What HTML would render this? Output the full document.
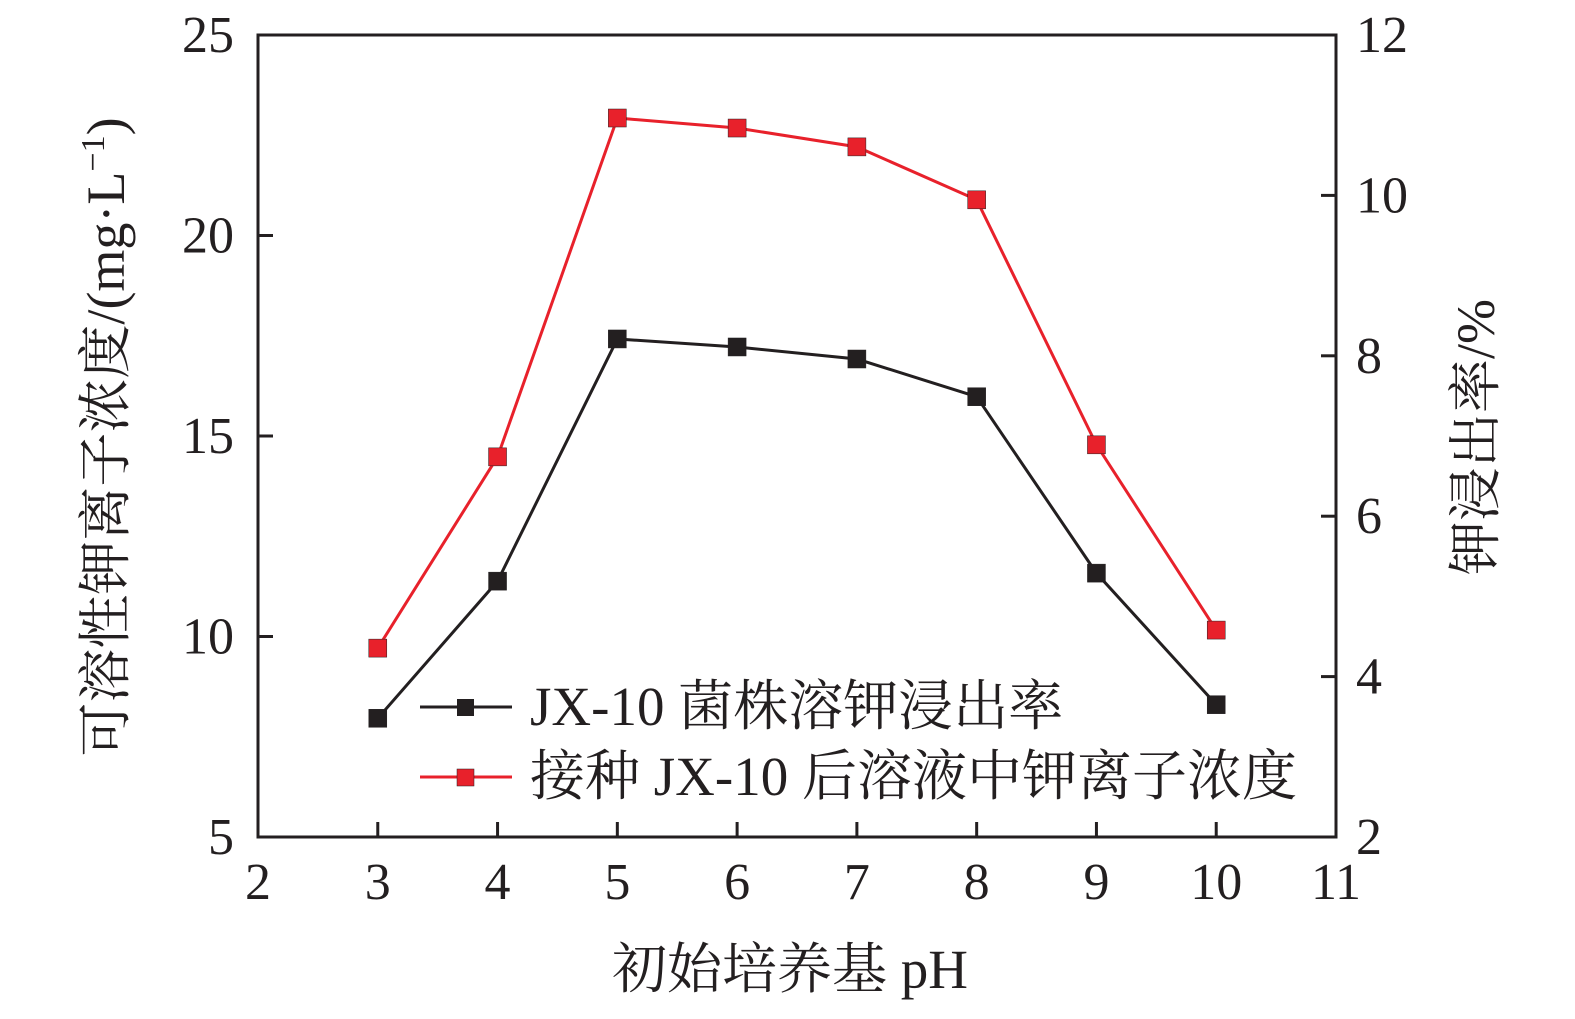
<!DOCTYPE html>
<html><head><meta charset="utf-8"><style>
html,body{margin:0;padding:0;background:#fff;}
svg text{font-family:"Liberation Serif","Noto Serif CJK SC",serif;fill:#231f20;}
</style></head><body>
<svg id="chart" width="1575" height="1014" viewBox="0 0 1575 1014" xmlns="http://www.w3.org/2000/svg">
<g id="axes"></g><g id="series"></g>
<text x="790" y="988" text-anchor="middle" font-size="55">初始培养基 pH</text>
<text transform="translate(124,437) rotate(-90)" text-anchor="middle" font-size="54">可溶性钾离子浓度/(mg·L<tspan dy="-20" font-size="34">−1</tspan><tspan dy="20">)</tspan></text>
<text transform="translate(1494,437) rotate(-90)" text-anchor="middle" font-size="54">钾浸出率/%</text>
<g>
<g>
<line x1="420" y1="707" x2="512" y2="707" stroke="#231f20" stroke-width="3"/>
<rect x="457" y="699" width="17" height="17" fill="#231f20"/>
<text x="530" y="725" font-size="55">JX-10 菌株溶钾浸出率</text></g>
<g>
<line x1="420" y1="777" x2="512" y2="777" stroke="#e8212b" stroke-width="3"/>
<rect x="457" y="769" width="17" height="17" fill="#e8212b" stroke="#231f20" stroke-width="0.5"/>
<text x="530" y="795" font-size="55">接种 JX-10 后溶液中钾离子浓度</text></g>
</g>
</svg>
<script>
const phValues=[3,4,5,6,7,8,9,10];
const leachRate=[3.48,5.19,8.21,8.11,7.96,7.49,5.29,3.65];
const kConc=[9.71,14.48,22.93,22.68,22.21,20.89,14.78,10.16];
const xTicks=[2,3,4,5,6,7,8,9,10,11];
const leftTicks=[5,10,15,20,25];
const rightTicks=[2,4,6,8,10,12];
const L=258,R=1336,T=35,B=837;
const xs=v=>L+(v-2)/9*(R-L);
const yl=v=>B-(v-5)/20*(B-T);
const yr=v=>B-(v-2)/10*(B-T);
const NS="http://www.w3.org/2000/svg";
function mk(tag,attrs,parent){const e=document.createElementNS(NS,tag);for(const k in attrs)e.setAttribute(k,attrs[k]);parent.appendChild(e);return e;}
const ax=document.getElementById('axes');
let frame=mk('rect',{x:L,y:T,width:R-L,height:B-T,fill:'none',stroke:'#231f20','stroke-width':3},ax);


xTicks.forEach(t=>{const x=xs(t);
 const l=mk('line',{x1:x,y1:B,x2:x,y2:B-15,stroke:'#231f20','stroke-width':3},ax);
 
 
 const tx=mk('text',{x:x,y:B+62,'text-anchor':'middle','font-size':52},ax);tx.textContent=t;
 
 });
leftTicks.forEach(t=>{const y=yl(t);
 const l=mk('line',{x1:L,y1:y,x2:L+15,y2:y,stroke:'#231f20','stroke-width':3},ax);
 
 
 const tx=mk('text',{x:L-24,y:y+17,'text-anchor':'end','font-size':52},ax);tx.textContent=t;
 
 });
rightTicks.forEach(t=>{const y=yr(t);
 const l=mk('line',{x1:R,y1:y,x2:R-15,y2:y,stroke:'#231f20','stroke-width':3},ax);
 
 
 const tx=mk('text',{x:R+20,y:y+17,'text-anchor':'start','font-size':52},ax);tx.textContent=t;
 
 });
const sg=document.getElementById('series');
function drawSeries(vals,yf,color,name){
 const pts=vals.map((v,i)=>xs(phValues[i])+','+yf(v)).join(' ');
 const pl=mk('polyline',{points:pts,fill:'none',stroke:color,'stroke-width':3},sg);
 
 
 vals.forEach((v,i)=>{const r=mk('rect',{x:xs(phValues[i])-9,y:yf(v)-9,width:18,height:18,fill:color,stroke:'#231f20','stroke-width':0.5},sg);
  
  });
}
drawSeries(kConc,yl,'#e8212b','potassium-concentration');
drawSeries(leachRate,yr,'#231f20','leaching-rate');
</script>
</body></html>
